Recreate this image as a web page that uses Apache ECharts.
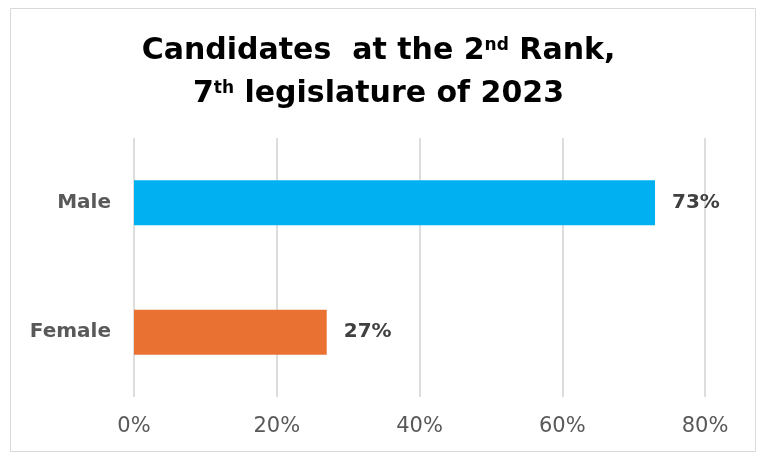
<!DOCTYPE html>
<html>
<head>
<meta charset="utf-8">
<script src="https://cdn.jsdelivr.net/npm/echarts@6/dist/echarts.min.js"></script>
<style>
  html, body { margin: 0; padding: 0; background: #ffffff; }
  #chart { width: 757px; height: 453px; }
</style>
</head>
<body>
<div id="chart"></div>
<script>
// Share of candidates at the second rank, by gender (percent)
const categories = ['Male', 'Female'];
const shares = [73, 27];
const barColors = ['#00B0F0', '#E97132'];
const axisMax = 80;
const axisStep = 20;

const chart = echarts.init(document.getElementById('chart'), null, { renderer: 'canvas' });

chart.setOption({
  backgroundColor: '#ffffff',
  animation: false,
  title: {
    left: 'center',
    top: 30,
    padding: [0, 0, 0, 10],
    text: '{t|Candidates  at the 2}{s|nd}{t| Rank,}\n{t|7}{s|th}{t| legislature of 2023}',
    textStyle: {
      rich: {
        t: {
          fontFamily: 'DejaVu Sans',
          fontWeight: 'bold',
          fontSize: 30,
          lineHeight: 43,
          color: '#000000'
        },
        s: {
          fontFamily: 'DejaVu Sans',
          fontWeight: 'bold',
          fontSize: 17,
          lineHeight: 20,
          padding: [0, 0, 12, 0],
          color: '#000000'
        }
      }
    }
  },
  graphic: [{
    type: 'rect',
    shape: { x: 10.5, y: 8.5, width: 745, height: 443 },
    style: { fill: 'none', stroke: '#D9D9D9', lineWidth: 1 },
    silent: true
  }],
  grid: {
    left: 134,
    right: 52,
    top: 138,
    bottom: 56,
    containLabel: false
  },
  xAxis: {
    type: 'value',
    min: 0,
    max: axisMax,
    interval: axisStep,
    axisLine: { show: false },
    axisTick: { show: false },
    splitLine: { show: true, lineStyle: { color: '#DDDDDD', width: 2 } },
    axisLabel: {
      formatter: '{value}%',
      margin: 19,
      fontFamily: 'DejaVu Sans',
      fontSize: 21,
      color: '#595959'
    }
  },
  yAxis: {
    type: 'category',
    data: categories,
    inverse: true,
    axisLine: { show: false },
    axisTick: { show: false },
    splitLine: { show: false },
    axisLabel: {
      margin: 23,
      fontFamily: 'DejaVu Sans',
      fontWeight: 'bold',
      fontSize: 20,
      color: '#595959'
    }
  },
  series: [{
    type: 'bar',
    barWidth: 45,
    data: shares.map((v, i) => ({ value: v, itemStyle: { color: barColors[i] } })),
    label: {
      show: true,
      position: 'right',
      distance: 17,
      formatter: '{c}%',
      fontFamily: 'DejaVu Sans',
      fontWeight: 'bold',
      fontSize: 20,
      color: '#404040'
    }
  }]
});
</script>
</body>
</html>
